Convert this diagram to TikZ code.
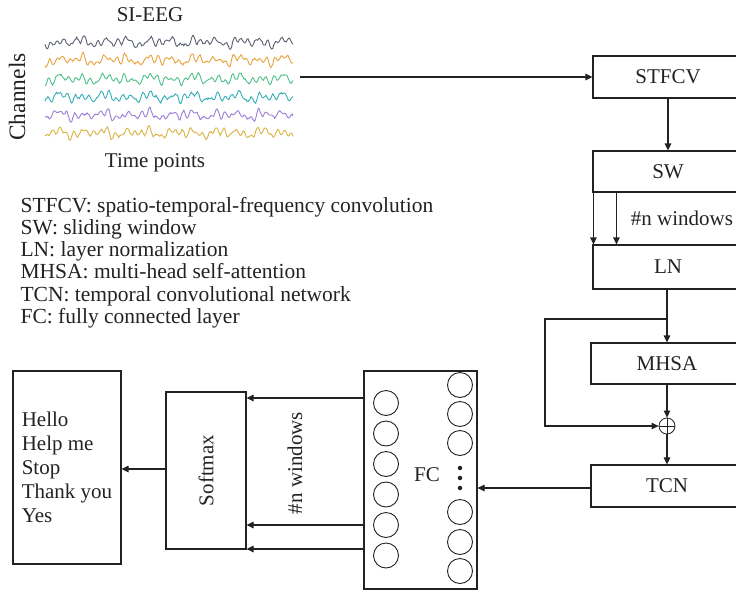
\documentclass[tikz,border=0pt]{standalone}
\usepackage{fontspec}
\setmainfont{Liberation Serif}
\usetikzlibrary{arrows.meta,calc}
\definecolor{ink}{HTML}{222222}
\definecolor{sigA}{HTML}{5A5F73}
\definecolor{sigB}{HTML}{E9A23B}
\definecolor{sigC}{HTML}{4CC08A}
\definecolor{sigD}{HTML}{33AEB5}
\definecolor{sigE}{HTML}{9B7ED6}
\definecolor{sigF}{HTML}{D9B343}
\begin{document}
\begin{tikzpicture}[x=1pt,y=-1pt,line width=1.1pt,draw=ink,text=ink,
  font=\fontsize{21}{24}\selectfont,
  box/.style={draw,rectangle,inner sep=0pt},
  arr/.style={-{Triangle[length=7pt,width=6.5pt]}},
  neuron/.style={draw,circle,minimum size=25pt,inner sep=0pt,line width=0.9pt},
  dotn/.style={fill=ink,circle,minimum size=4.5pt,inner sep=0pt},
  sig/.style={line width=0.9pt},
  legend/.style={anchor=base west,inner sep=0pt,font=\fontsize{21.5}{24}\selectfont}]
\clip (0,0) rectangle (736,592);
\pgfmathsetseed{7}
% EEG signals
\foreach \yy/\cc/\ph in {42/sigA/0,60/sigB/40,79/sigC/80,97/sigD/120,115/sigE/160,133/sigF/200}{
  \draw[sig,\cc] plot[domain=0:1,samples=260,variable=\t]
    ({45+248*\t},{\yy+2.0*sin(13100*\t+\ph)+1.8*sin(8300*\t+2*\ph)+2.3*sin(4000*\t+30)+1.5*sin(2100*\t+\ph)+1.2*sin(10700*\t+60)+0.8*rand});
}
\node (title) at (150,15) {SI-EEG};
\node[rotate=90,font=\fontsize{23.5}{26}\selectfont] (chan) at (17,97) {Channels};
\node (tpts) at (155,163) {Time points};
\coordinate (eegout) at (300,77);
% legend
\node[legend] (l1) at (20,212) {STFCV: spatio-temporal-frequency convolution};
\node[legend] (l2) at (20,234.3) {SW: sliding window};
\node[legend] (l3) at (20,256.6) {LN: layer normalization};
\node[legend] (l4) at (20,278.9) {MHSA: multi-head self-attention};
\node[legend] (l5) at (20,301.2) {TCN: temporal convolutional network};
\node[legend] (l6) at (20,323.5) {FC: fully connected layer};
% right column
\node[box,minimum width=150pt,minimum height=42pt] (stfcv) at (668,77) {STFCV};
\node[box,minimum width=150pt,minimum height=41pt] (sw) at (668,171.5) {SW};
\node (nwin) at (682,218) {\#n windows};
\node[box,minimum width=150pt,minimum height=44pt] (ln) at (668,267) {LN};
\node[box,minimum width=152pt,minimum height=41pt] (mhsa) at (667,363.5) {MHSA};
\node[draw,circle,minimum size=16pt,inner sep=0pt,line width=0.8pt] (plus) at (667,426) {};
\draw[line width=0.6pt] (plus.north) -- (plus.south) (plus.west) -- (plus.east);
\node[box,minimum width=152pt,minimum height=42pt] (tcn) at (667,486) {TCN};
\coordinate (branch) at (667,319);
\coordinate (loop) at (545,319);
% FC block
\node[box,minimum width=113pt,minimum height=218pt] (fc) at (420.5,480) {};
\node (fclabel) at (427,475) {FC};
\foreach \i in {0,...,5}{
  \node[neuron] (L\i) at (386,{403+30.5*\i}) {};
}
\node[neuron] (R0) at (460,385) {};
\node[neuron] (R1) at (460,414) {};
\node[neuron] (R2) at (460,443) {};
\node[neuron] (R3) at (460,512) {};
\node[neuron] (R4) at (460,542) {};
\node[neuron] (R5) at (460,571) {};
\node[dotn] (d1) at (460,468) {};
\node[dotn] (d2) at (460,478) {};
\node[dotn] (d3) at (460,488) {};
% softmax and outputs
\node[box,minimum width=80pt,minimum height=157pt] (soft) at (206,470.5) {};
\node[rotate=90] (softlabel) at (soft.center) {Softmax};
\node[rotate=90] (nwin2) at (295,463) {\#n windows};
\node[box,minimum width=108pt,minimum height=193pt,align=left] (words) at (67,467.5)
  {Hello\\Help me\\Stop\\Thank you\\Yes};
% connectors
\draw[arr] (eegout) -- (stfcv.west);
\draw[arr] (stfcv.south) -- (sw.north);
\draw[arr] ([xshift=1pt]sw.south west) -- ([xshift=1pt]ln.north west);
\draw[arr] ([xshift=24pt]sw.south west) -- ([xshift=24pt]ln.north west);
\draw[arr] (ln.south -| branch) -- (mhsa.north);
\draw[arr] (branch) -- (loop) |- (plus.west);
\draw[arr] (mhsa.south) -- (plus.north);
\draw[arr] (plus.south) -- (tcn.north);
\draw[arr] ([yshift=-2pt]tcn.west) -- ([yshift=-2pt]tcn.west -| fc.east);
\draw[arr] ([yshift=82pt]fc.west) -- ([yshift=82pt]fc.west -| soft.east);
\draw[arr] ([yshift=-45pt]fc.west) -- ([yshift=-45pt]fc.west -| soft.east);
\draw[arr] ([yshift=-69pt]fc.west) -- ([yshift=-69pt]fc.west -| soft.east);
\draw[arr] ([yshift=1.5pt]soft.west) -- ([yshift=1.5pt]soft.west -| words.east);
\end{tikzpicture}
\end{document}
